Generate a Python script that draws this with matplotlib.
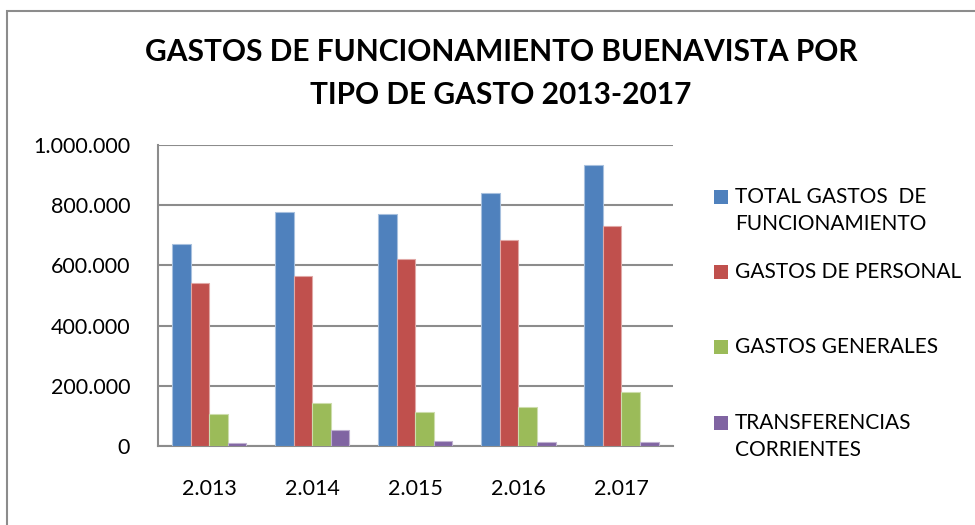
import matplotlib
matplotlib.use("Agg")
import matplotlib.pyplot as plt
from matplotlib.patches import Rectangle
from matplotlib.ticker import FuncFormatter
import numpy as np

years = ["2.013", "2.014", "2.015", "2.016", "2.017"]
series_names = ["TOTAL GASTOS  DE\nFUNCIONAMIENTO", "GASTOS DE PERSONAL",
                "GASTOS GENERALES", "TRANSFERENCIAS\nCORRIENTES"]
total_funcionamiento = [670000, 776000, 771000, 840000, 932000]
gastos_personal = [540000, 564000, 621000, 684000, 732000]
gastos_generales = [105000, 142000, 112000, 129000, 179000]
transferencias = [11000, 54000, 18000, 12000, 12000]
colors = ["#4F81BD", "#C0504D", "#9BBB59", "#8064A2"]
edges = ["#A7C0DE", "#E0A8A6", "#CDDDAC", "#BFB1D0"]

plt.rcParams['font.family'] = ['Lato', 'DejaVu Sans']

fig = plt.figure(figsize=(9.75, 5.25), dpi=100)
W, H = 975, 525
ax = fig.add_axes([157.8 / W, 1 - 446 / H, (673 - 157.8) / W, (446 - 145) / H])

data = [total_funcionamiento, gastos_personal, gastos_generales, transferencias]
x = np.arange(len(years))
w = 0.18
for i, (vals, c, e) in enumerate(zip(data, colors, edges)):
    ax.bar(x + (i - 1.5) * w, vals, width=w, color=c, edgecolor=e, linewidth=0.8, zorder=3)

ax.set_xlim(-0.5, len(years) - 0.5)
ax.set_ylim(0, 1000000)
ax.set_yticks(np.arange(0, 1000001, 200000))
ax.yaxis.set_major_formatter(FuncFormatter(lambda v, p: f"{int(v):,}".replace(",", ".")))
ax.set_xticks(x)
ax.set_xticklabels(years)
ax.grid(axis='y', color='#8C8C8C', linewidth=1.5, zorder=1)
for s in ax.spines.values():
    s.set_color('#8C8C8C')
    s.set_linewidth(1.5)
ax.spines['top'].set_visible(False)
ax.spines['right'].set_visible(False)
ax.tick_params(axis='both', length=0, labelsize=15.5, colors='black')
ax.tick_params(axis='y', pad=20)
ax.tick_params(axis='x', pad=24)

fig.text(501 / W, 1 - 52 / H, "GASTOS DE FUNCIONAMIENTO BUENAVISTA POR",
         ha='center', va='center', fontsize=21.5, fontweight='bold')
fig.text(501 / W, 1 - 95 / H, "TIPO DE GASTO 2013-2017",
         ha='center', va='center', fontsize=21.5, fontweight='bold')

# legend
leg_y = [197, 272, 347, 423]
for name, c, yy in zip(series_names, colors, leg_y):
    fig.patches.append(Rectangle((714 / W, 1 - (yy + 7) / H), 14 / W, 14 / H,
                                 transform=fig.transFigure, facecolor=c, edgecolor='none'))
    fig.text(735 / W, 1 - (yy - 10) / H, name, ha='left', va='top', fontsize=15,
             linespacing=1.45)

# chart border
fig.patches.append(Rectangle((7 / W, -0.1), 1.2, 1 - 11 / H + 0.1, transform=fig.transFigure,
                             facecolor='none', edgecolor='#8C8C8C', linewidth=1.5))

fig.savefig("out.png", dpi=100)
